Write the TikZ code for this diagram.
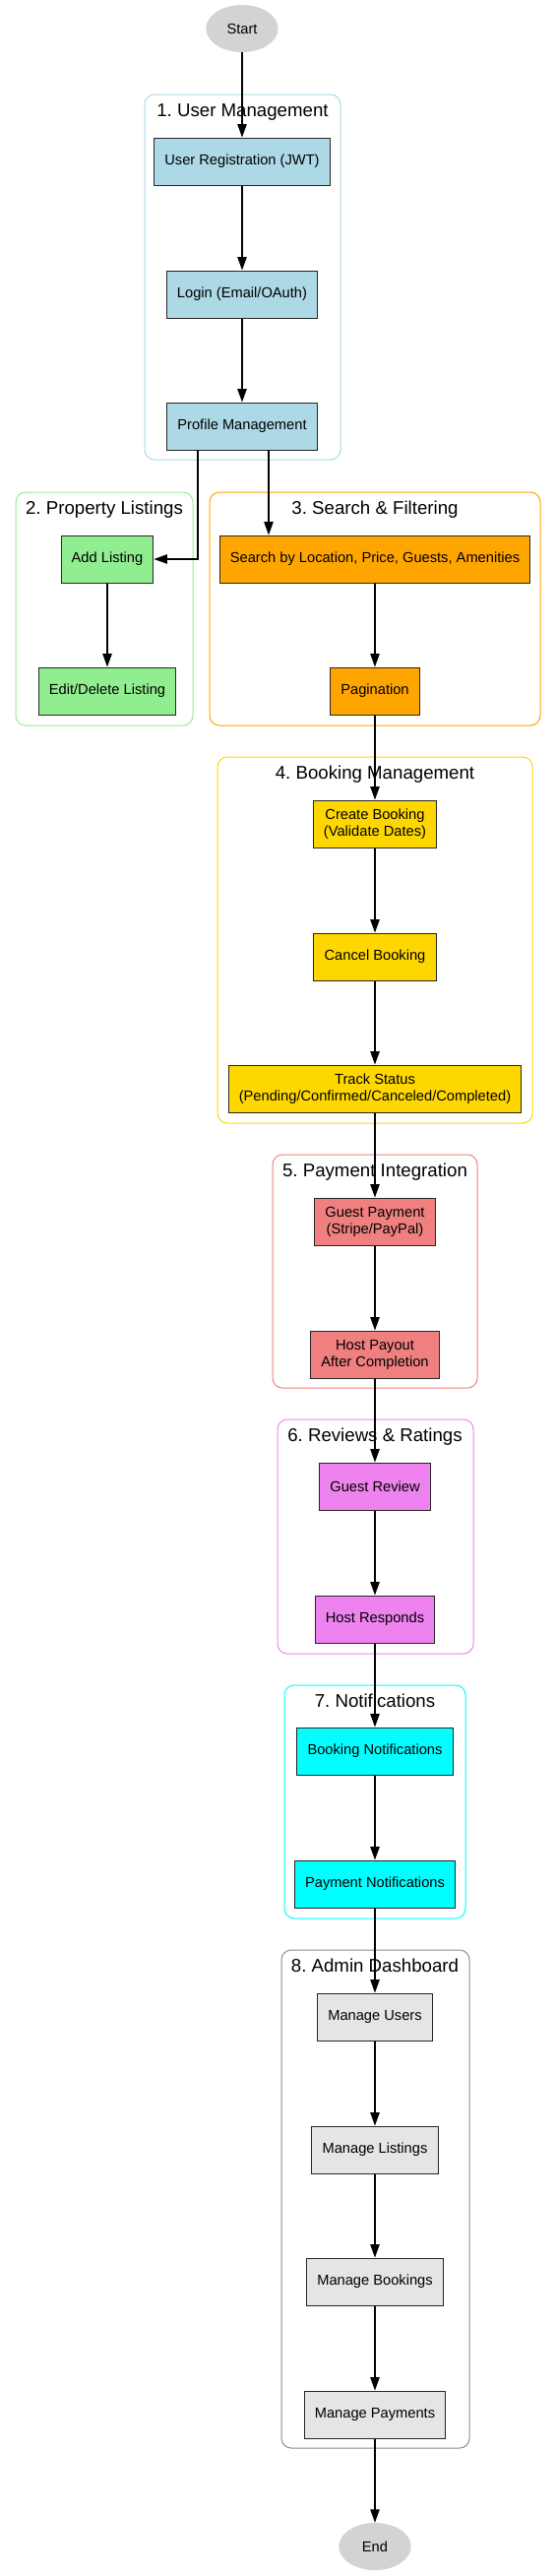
\documentclass[tikz,border=0pt]{standalone}
\usepackage{fontspec}
\setmainfont{Liberation Sans}
\usetikzlibrary{arrows.meta,shapes.geometric}
\definecolor{lblue}{HTML}{ADD8E6}
\definecolor{lgreen}{HTML}{90EE90}
\definecolor{orng}{HTML}{FFA500}
\definecolor{gld}{HTML}{FFD700}
\definecolor{lcoral}{HTML}{F08080}
\definecolor{vlt}{HTML}{EE82EE}
\definecolor{cyn}{HTML}{00FFFF}
\definecolor{gray90}{HTML}{E5E5E5}
\definecolor{lgrey}{HTML}{D3D3D3}
\definecolor{frame8}{HTML}{8C8C8C}
\tikzset{
  procbox/.style={draw=black!85, line width=0.75pt, rectangle, minimum height=36pt, inner xsep=8pt, align=center, font=\fontsize{11}{12.8}\selectfont},
  terminal/.style={ellipse, fill=lgrey, minimum width=55pt, minimum height=36pt, font=\fontsize{11}{12.8}\selectfont},
  groupframe/.style={line width=0.75pt, rounded corners=7.5pt},
  grouptitle/.style={anchor=base, font=\fontsize{14}{16}\selectfont},
  flow/.style={-{Triangle[length=10pt, width=7pt]}, line width=0.8pt}
}
\frenchspacing
\begin{document}
\begin{tikzpicture}[x=0.75pt, y=-0.75pt]
\useasboundingbox (0,0) rectangle (565,2617);
% clusters
\draw[groupframe, draw=lblue] (147,96) rectangle (346,467);
\node[grouptitle] (t1) at (246.5,118) {1. User Management};
\draw[groupframe, draw=lgreen] (16,500) rectangle (196,737);
\node[grouptitle] (t2) at (106,522) {2. Property Listings};
\draw[groupframe, draw=orng] (213,500) rectangle (549,737);
\node[grouptitle] (t3) at (381,522) {3. Search \& Filtering};
\draw[groupframe, draw=gld] (221,769) rectangle (541,1141);
\node[grouptitle] (t4) at (381,791) {4. Booking Management};
\draw[groupframe, draw=lcoral] (277,1173) rectangle (485,1410);
\node[grouptitle] (t5) at (381,1195) {5. Payment Integration};
\draw[groupframe, draw=vlt] (282,1442) rectangle (481,1680);
\node[grouptitle] (t6) at (381,1464) {6. Reviews \& Ratings};
\draw[groupframe, draw=cyn] (289,1712) rectangle (473,1949);
\node[grouptitle] (t7) at (381,1734) {7. Notifications};
\draw[groupframe, draw=frame8] (286,1981) rectangle (477,2487);
\node[grouptitle] (t8) at (381,2003) {8. Admin Dashboard};
% nodes
\node[terminal] (start) at (246,29) {Start};
\node[procbox, fill=lblue] (reg) at (246,164) {User Registration (JWT)};
\node[procbox, fill=lblue] (login) at (246,299) {Login (Email/OAuth)};
\node[procbox, fill=lblue] (profile) at (246,433) {Profile Management};
\node[procbox, fill=lgreen] (addl) at (109,568) {Add Listing};
\node[procbox, fill=lgreen] (editl) at (109,702) {Edit/Delete Listing};
\node[procbox, fill=orng] (search) at (381,568) {Search by Location, Price, Guests, Amenities};
\node[procbox, fill=orng] (pages) at (381,702) {Pagination};
\node[procbox, fill=gld] (create) at (381,837) {Create Booking\\(Validate Dates)};
\node[procbox, fill=gld] (cancel) at (381,972) {Cancel Booking};
\node[procbox, fill=gld] (track) at (381,1106) {Track Status\\(Pending/Confirmed/Canceled/Completed)};
\node[procbox, fill=lcoral] (gpay) at (381,1241) {Guest Payment\\(Stripe/PayPal)};
\node[procbox, fill=lcoral] (hpay) at (381,1376) {Host Payout\\After Completion};
\node[procbox, fill=vlt] (grev) at (381,1510) {Guest Review};
\node[procbox, fill=vlt] (hresp) at (381,1645) {Host Responds};
\node[procbox, fill=cyn] (bnotif) at (381,1779) {Booking Notifications};
\node[procbox, fill=cyn] (pnotif) at (381,1914) {Payment Notifications};
\node[procbox, fill=gray90] (musers) at (381,2049) {Manage Users};
\node[procbox, fill=gray90] (mlist) at (381,2184) {Manage Listings};
\node[procbox, fill=gray90] (mbook) at (381,2318) {Manage Bookings};
\node[procbox, fill=gray90] (mpay) at (381,2453) {Manage Payments};
\node[terminal] (end) at (381,2587) {End};
% connectors
\coordinate (pl) at (201,457);
\coordinate (pr) at (273,457);
\draw[flow] (start) -- (reg);
\draw[flow] (reg) -- (login);
\draw[flow] (login) -- (profile);
\draw[flow] (pl) |- (addl.east);
\draw[flow] (pr) -- (pr |- search.north);
\draw[flow] (addl) -- (editl);
\draw[flow] (search) -- (pages);
\draw[flow] (pages) -- (create);
\draw[flow] (create) -- (cancel);
\draw[flow] (cancel) -- (track);
\draw[flow] (track) -- (gpay);
\draw[flow] (gpay) -- (hpay);
\draw[flow] (hpay) -- (grev);
\draw[flow] (grev) -- (hresp);
\draw[flow] (hresp) -- (bnotif);
\draw[flow] (bnotif) -- (pnotif);
\draw[flow] (pnotif) -- (musers);
\draw[flow] (musers) -- (mlist);
\draw[flow] (mlist) -- (mbook);
\draw[flow] (mbook) -- (mpay);
\draw[flow] (mpay) -- (end);
\end{tikzpicture}
\end{document}
